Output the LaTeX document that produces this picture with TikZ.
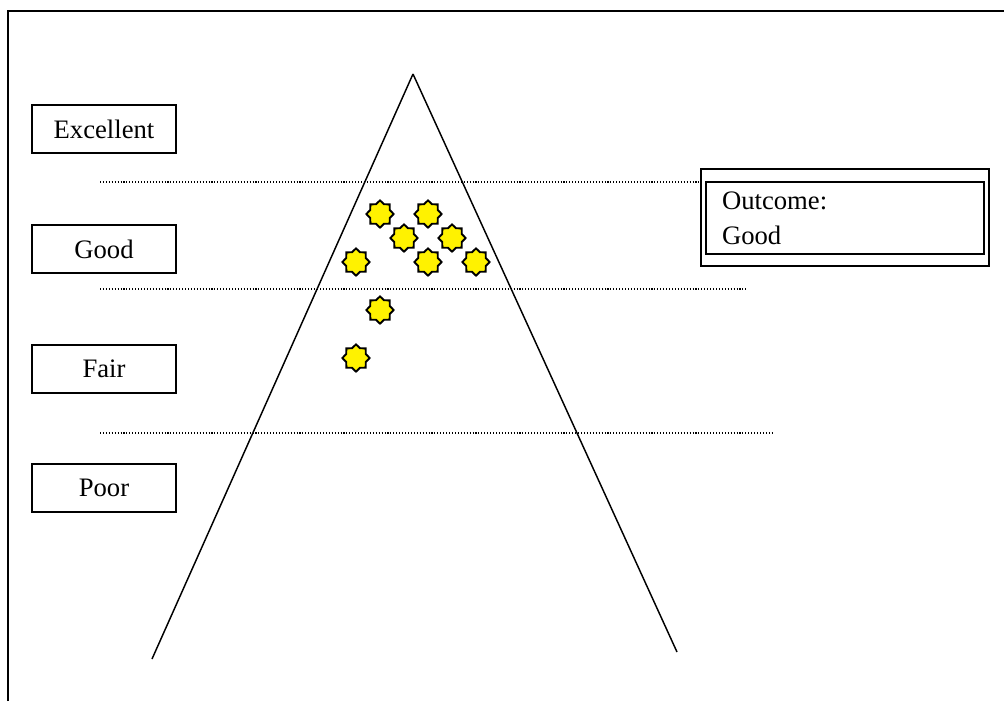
\documentclass[tikz,border=0pt]{standalone}
\usepackage{fontspec}
\setmainfont{Liberation Serif}
\usetikzlibrary{shapes.geometric}

\begin{document}
\begin{tikzpicture}[x=0.75pt, y=-0.75pt,
    every node/.style={font=\fontsize{20}{26}\selectfont},
    level/.style={rectangle, draw, line width=1.1pt, minimum width=108pt, minimum height=36pt, inner sep=0pt},
    mark star/.style={star, star points=8, star point ratio=1.3, draw, line width=1.4pt, fill=yellow, minimum size=20.5pt, inner sep=0pt},
    band/.style={line width=0.8pt, dash pattern=on 0.8pt off 1.4pt},
    side/.style={line width=1.1pt}]
    \useasboundingbox (0, 0) rectangle (1004, 701);

    % frame
    \draw[line width=1.2pt] (8, 701) -- (8, 11) -- (1004, 11);

    % levels
    \node[level] at (104, 129) (exc) {Excellent};
    \node[level] at (104, 249) (good) {Good};
    \node[level] at (104, 369) (fair) {Fair};
    \node[level] at (104, 488) (poor) {Poor};

    % pyramid
    \coordinate (apex) at (413, 74);
    \coordinate (bl) at (152, 659);
    \coordinate (br) at (677, 652);
    \draw[side] (apex) -- (bl);
    \draw[side] (apex) -- (br);

    % outcome
    \node[rectangle, draw, line width=1pt, minimum width=216pt, minimum height=72.75pt, inner sep=0pt] at (845, 217.5) (outer) {};
    \node[rectangle, draw, line width=1.5pt, minimum width=208.5pt, minimum height=54pt, inner xsep=12pt, inner ysep=0pt, text width=184.5pt, align=left] at (845, 218) (outcome) {Outcome:\\Good};

    % bands
    \coordinate (d1a) at (100, 182);
    \coordinate (d2a) at (100, 289);
    \coordinate (d2b) at (746, 289);
    \coordinate (d3a) at (100, 433);
    \coordinate (d3b) at (773, 433);
    \draw[band] (d1a) -- (d1a -| outer.west);
    \draw[band] (d2a) -- (d2b);
    \draw[band] (d3a) -- (d3b);

    % ratings
    \node[mark star] at (380, 214) (s1) {};
    \node[mark star] at (428, 214) (s2) {};
    \node[mark star] at (404, 238) (s3) {};
    \node[mark star] at (452, 238) (s4) {};
    \node[mark star] at (356, 262) (s5) {};
    \node[mark star] at (428, 262) (s6) {};
    \node[mark star] at (476, 262) (s7) {};
    \node[mark star] at (380, 310) (s8) {};
    \node[mark star] at (356, 358) (s9) {};

  \end{tikzpicture}
\end{document}
